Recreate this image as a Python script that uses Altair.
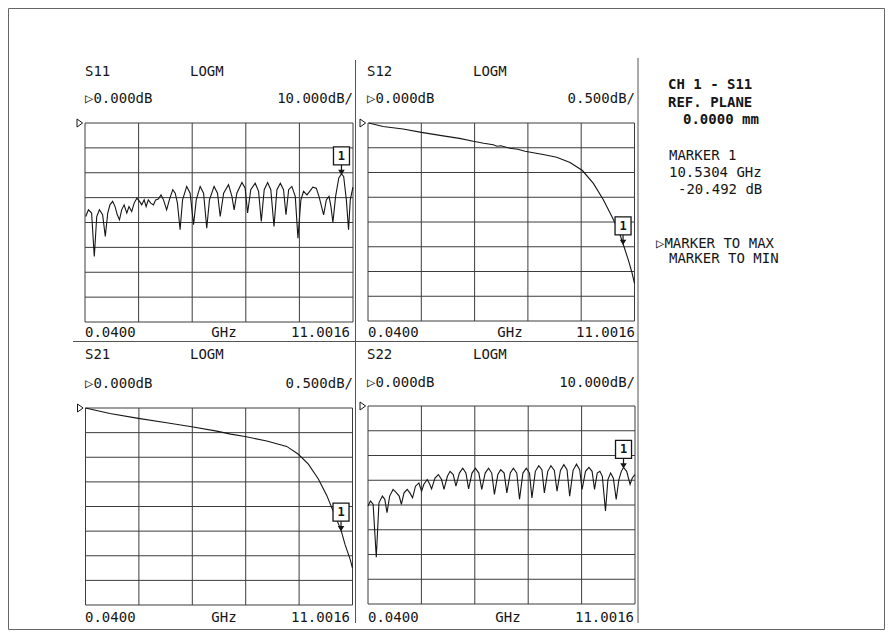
import altair as alt
import pandas as pd

F_START = 0.04      # GHz
F_STOP = 11.0016    # GHz
MARKER_F = 10.5304  # GHz

s11_freq = [0.07, 0.18, 0.31, 0.42, 0.52, 0.63, 0.76, 0.87, 0.97, 1.06,
            1.17, 1.27, 1.36, 1.45, 1.54, 1.64, 1.75, 1.84, 1.95, 2.05,
            2.16, 2.27, 2.36, 2.46, 2.54, 2.63, 2.73, 2.84, 2.93, 3.04,
            3.15, 3.25, 3.38, 3.49, 3.63, 3.73, 3.82, 3.93, 4.03, 4.20,
            4.34, 4.48, 4.59, 4.75, 4.89, 5.02, 5.13, 5.32, 5.46, 5.57,
            5.71, 5.91, 6.05, 6.14, 6.25, 6.46, 6.59, 6.69, 6.82, 7.00,
            7.14, 7.25, 7.37, 7.51, 7.64, 7.77, 7.89, 8.03, 8.16, 8.26,
            8.37, 8.50, 8.64, 8.75, 8.87, 8.98, 9.12, 9.23, 9.36, 9.50,
            9.61, 9.80, 9.91, 10.02, 10.10, 10.18, 10.29, 10.42, 10.53, 10.62,
            10.73, 10.82, 10.89, 11.00]
s11_db = [-37.6, -34.9, -36.2, -53.7, -37.6, -34.9, -36.9, -45.6, -36.2, -32.9,
          -31.5, -33.6, -36.9, -38.9, -34.9, -32.9, -36.2, -33.6, -35.6, -32.2,
          -30.2, -31.5, -32.9, -30.9, -33.6, -30.9, -32.2, -32.9, -30.9, -30.6,
          -28.9, -30.9, -34.9, -30.9, -26.8, -28.2, -32.2, -42.9, -30.9, -25.5,
          -28.2, -40.9, -30.9, -25.5, -28.2, -42.3, -30.9, -25.5, -28.2, -37.6,
          -28.2, -24.8, -29.5, -34.9, -28.2, -23.9, -26.2, -36.2, -26.8, -24.2,
          -27.5, -39.6, -26.8, -23.9, -26.8, -41.6, -26.8, -24.2, -26.8, -36.9,
          -26.8, -25.5, -29.5, -46.3, -30.9, -27.5, -28.9, -27.5, -25.8, -26.2,
          -29.5, -36.9, -30.9, -29.5, -33.6, -40.0, -29.5, -22.1, -20.5, -21.5,
          -30.9, -42.9, -30.9, -25.8]

s12_freq = [0.07, 0.66, 1.48, 2.24, 3.13, 3.80, 4.37, 4.80, 5.19, 5.35,
            5.50, 5.88, 6.20, 6.50, 6.84, 7.30, 7.80, 8.35, 8.86, 9.31,
            9.72, 10.07, 10.34, 10.53, 10.75, 10.89, 11.00]
s12_db = [0.00, -0.07, -0.12, -0.19, -0.26, -0.31, -0.37, -0.41, -0.44, -0.47,
          -0.46, -0.51, -0.53, -0.57, -0.60, -0.64, -0.69, -0.80, -0.96, -1.22,
          -1.55, -1.89, -2.16, -2.44, -2.77, -3.01, -3.24]

s21_freq = [0.04, 1.04, 2.21, 3.37, 4.40, 5.43, 6.00, 6.59, 7.48, 8.30,
            8.78, 9.19, 9.60, 9.95, 10.22, 10.53, 10.70, 10.91, 11.00]
s21_db = [0.00, -0.11, -0.21, -0.30, -0.38, -0.47, -0.53, -0.58, -0.67, -0.78,
          -0.94, -1.14, -1.44, -1.78, -2.11, -2.48, -2.78, -3.08, -3.25]

s22_freq = [0.04, 0.14, 0.25, 0.38, 0.49, 0.63, 0.73, 0.82, 0.93, 1.07,
            1.21, 1.32, 1.41, 1.52, 1.65, 1.76, 1.87, 1.99, 2.13, 2.24,
            2.33, 2.47, 2.58, 2.65, 2.79, 2.93, 3.06, 3.16, 3.30, 3.41,
            3.54, 3.65, 3.79, 3.93, 4.06, 4.17, 4.31, 4.45, 4.59, 4.71,
            4.85, 4.99, 5.12, 5.23, 5.37, 5.49, 5.63, 5.74, 5.88, 6.01,
            6.15, 6.26, 6.40, 6.54, 6.67, 6.77, 6.91, 7.05, 7.18, 7.28,
            7.42, 7.55, 7.69, 7.80, 7.94, 8.08, 8.21, 8.32, 8.46, 8.60,
            8.73, 8.83, 8.97, 9.11, 9.24, 9.34, 9.45, 9.56, 9.66, 9.79,
            9.89, 10.00, 10.11, 10.23, 10.34, 10.44, 10.53, 10.66, 10.80, 10.89,
            11.00]
s22_db = [-40.4, -38.4, -39.7, -61.1, -39.1, -36.4, -37.7, -43.1, -36.4, -33.7,
          -35.1, -36.4, -39.7, -35.1, -33.7, -35.1, -37.1, -32.4, -31.1, -34.4,
          -31.7, -29.7, -31.7, -33.5, -29.1, -27.7, -29.7, -33.7, -28.4, -26.4,
          -27.7, -32.4, -27.1, -25.1, -27.1, -33.5, -27.1, -25.1, -27.1, -33.7,
          -27.1, -25.1, -27.1, -35.7, -27.7, -25.7, -27.1, -35.1, -27.1, -25.1,
          -27.1, -37.7, -27.1, -25.1, -27.1, -37.1, -26.4, -24.1, -25.7, -35.1,
          -26.4, -24.1, -26.0, -34.4, -26.0, -23.7, -25.7, -36.4, -26.0, -23.5,
          -25.7, -33.7, -26.4, -24.8, -26.4, -33.7, -27.1, -26.4, -28.4, -42.4,
          -29.7, -27.1, -29.1, -37.7, -29.7, -26.4, -24.8, -26.4, -31.7, -29.1,
          -27.7]

marker_db = {"S11": -20.492, "S12": -2.44, "S21": -2.48, "S22": -24.8}
per_div = {"S11": 10.0, "S12": 0.5, "S21": 0.5, "S22": 10.0}
N_XDIV, N_YDIV = 5, 8

# ---------------- layout (pixel placement, chart coordinates) ----------------
W, H = 877, 622
FONT = "DejaVu Sans Mono"
FS = 14
INK = "#161616"
GRID = "#3c3c3c"

panels = [
    dict(name="S11", freq=s11_freq, db=s11_db, xr=[77, 345], yr=[314, 115]),
    dict(name="S12", freq=s12_freq, db=s12_db, xr=[360, 626.5], yr=[313, 115]),
    dict(name="S21", freq=s21_freq, db=s21_db, xr=[77.5, 344.5], yr=[597, 400]),
    dict(name="S22", freq=s22_freq, db=s22_db, xr=[360, 627], yr=[596, 398]),
]

BOX_PATH = "M-0.8,-2.7 L0.8,-2.7 L0.8,-0.9 L-0.8,-0.9 Z"
STEM_PATH = "M0,-0.9 L0,-0.3 M-0.22,-0.35 L0.22,-0.35 L0,0 Z"
REF_PATH = "M-2,-1 L-0.6,0 L-2,1 Z"

layers = []
for p in panels:
    step = per_div[p["name"]]
    ymin = -step * N_YDIV
    xs = alt.Scale(domain=[F_START, F_STOP], range=p["xr"], nice=False, zero=False)
    ys = alt.Scale(domain=[ymin, 0], range=p["yr"], nice=False, zero=False)

    rows = []
    for i in range(N_XDIV + 1):
        f = F_START + i * (F_STOP - F_START) / N_XDIV
        rows.append(dict(x=f, x2=f, y=ymin, y2=0.0))
    for j in range(N_YDIV + 1):
        d = ymin + j * step
        rows.append(dict(x=F_START, x2=F_STOP, y=d, y2=d))
    grid = alt.Chart(pd.DataFrame(rows)).mark_rule(color=GRID, strokeWidth=1).encode(
        x=alt.X("x:Q", scale=xs, axis=None), x2="x2:Q",
        y=alt.Y("y:Q", scale=ys, axis=None), y2="y2:Q")
    layers.append(grid)

    tdf = pd.DataFrame({"freq": p["freq"], "db": p["db"]})
    trace = alt.Chart(tdf).mark_line(color=INK, strokeWidth=1.1).encode(
        x=alt.X("freq:Q", scale=xs, axis=None),
        y=alt.Y("db:Q", scale=ys, axis=None))
    layers.append(trace)

    mdf = pd.DataFrame({"freq": [MARKER_F], "db": [marker_db[p["name"]]]})
    base_m = alt.Chart(mdf).encode(
        x=alt.X("freq:Q", scale=xs, axis=None),
        y=alt.Y("db:Q", scale=ys, axis=None))
    layers.append(base_m.mark_point(shape=STEM_PATH, size=400, filled=True, fill=INK,
                                    stroke=INK, strokeWidth=1.2, opacity=1))
    layers.append(base_m.mark_point(shape=BOX_PATH, size=400, filled=True, fill="white",
                                    stroke=INK, strokeWidth=1.3, opacity=1))
    layers.append(base_m.mark_text(text="1", dy=-18, font=FONT, fontSize=12,
                                   fontWeight="bold", color=INK))

    rdf = pd.DataFrame({"freq": [F_START], "db": [0.0]})
    layers.append(alt.Chart(rdf).mark_point(shape=REF_PATH, size=64, filled=False,
                                            stroke=INK, strokeWidth=1, opacity=1).encode(
        x=alt.X("freq:Q", scale=xs, axis=None),
        y=alt.Y("db:Q", scale=ys, axis=None)))


def text_layer(rows, align, weight="normal", size=FS):
    df = pd.DataFrame(rows, columns=["label", "px", "py"])
    return alt.Chart(df).mark_text(align=align, baseline="middle", font=FONT,
                                   fontSize=size, fontWeight=weight, color=INK).encode(
        x=alt.X("px:Q", scale=None, axis=None),
        y=alt.Y("py:Q", scale=None, axis=None),
        text="label:N")


left_texts = [
    ("S11", 77, 63.5), ("LOGM", 182, 63.5), ("▷0.000dB", 77, 91),
    ("S12", 359, 63.5), ("LOGM", 465, 63.5), ("▷0.000dB", 359, 91),
    ("S21", 77, 347), ("LOGM", 182, 347), ("▷0.000dB", 77, 376),
    ("S22", 359, 347), ("LOGM", 465, 347), ("▷0.000dB", 359, 375),
    ("0.0400", 77, 325), ("0.0400", 360, 325),
    ("0.0400", 77, 610), ("0.0400", 360, 610),
    ("MARKER 1", 661, 147.5), ("10.5304 GHz", 661, 165), ("-20.492 dB", 670, 182),
    ("▷MARKER TO MAX", 648, 236), ("MARKER TO MIN", 661, 251),
]
bold_texts = [("CH 1 - S11", 660, 77), ("REF. PLANE", 660, 94.5), ("0.0000 mm", 675, 112)]
right_texts = [
    ("10.000dB/", 345, 91), ("0.500dB/", 627, 91),
    ("0.500dB/", 345, 376), ("10.000dB/", 627, 375),
    ("11.0016", 342, 325), ("11.0016", 627, 325),
    ("11.0016", 342, 610), ("11.0016", 626, 610),
]
center_texts = [("GHz", 216, 325), ("GHz", 502, 325), ("GHz", 216, 610), ("GHz", 500, 610)]

layers.append(text_layer(left_texts, "left"))
layers.append(text_layer(bold_texts, "left", weight="bold"))
layers.append(text_layer(right_texts, "right"))
layers.append(text_layer(center_texts, "center"))

sep = pd.DataFrame([
    dict(x=347.5, x2=347.5, y=52, y2=615),
    dict(x=630, x2=630, y=50, y2=615),
    dict(x=65, x2=630, y=333.5, y2=333.5),
])
layers.append(alt.Chart(sep).mark_rule(color="#555555", strokeWidth=1).encode(
    x=alt.X("x:Q", scale=None, axis=None), x2="x2:Q",
    y=alt.Y("y:Q", scale=None, axis=None), y2="y2:Q"))

border = pd.DataFrame([
    dict(x=0.5, x2=W - 0.5, y=0.5, y2=0.5),
    dict(x=0.5, x2=W - 0.5, y=H - 0.5, y2=H - 0.5),
    dict(x=0.5, x2=0.5, y=0.5, y2=H - 0.5),
    dict(x=W - 0.5, x2=W - 0.5, y=0.5, y2=H - 0.5),
])
layers.append(alt.Chart(border).mark_rule(color="#666666", strokeWidth=1).encode(
    x=alt.X("x:Q", scale=None, axis=None), x2="x2:Q",
    y=alt.Y("y:Q", scale=None, axis=None), y2="y2:Q"))

chart = alt.layer(*layers).resolve_scale(x="independent", y="independent").properties(
    width=W, height=H, autosize=alt.AutoSizeParams(type="none"), padding=0,
    background="white",
).configure_view(stroke=None)

chart.save("out.html", embed_options={"renderer": "svg", "actions": False})
